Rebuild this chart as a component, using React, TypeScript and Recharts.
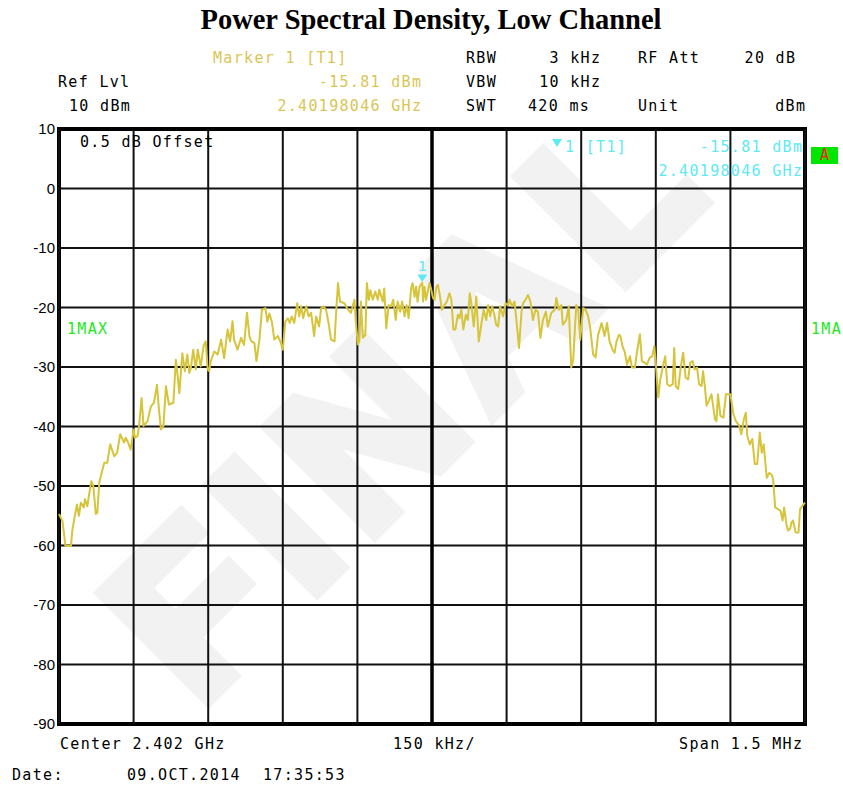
import React from 'react';
import {
  LineChart,
  Line,
  XAxis,
  YAxis,
  CartesianGrid,
  ReferenceLine,
  ReferenceArea,
  ReferenceDot,
} from 'recharts';

// frequency offset from 2.402 GHz centre (kHz) and max-hold level (dBm)
const lowerSkirtKHz = [
  -750, -743, -737, -726, -723, -714, -710, -706, -700, -698, -693, -690, -685, -681, -676,
  -673, -669, -659, -653, -647, -639, -633, -627, -619, -616, -611, -606, -600, -597, -592,
  -589, -584, -580, -572, -565, -559, -553, -549, -545, -540, -535, -529, -520, -515, -512,
  -508, -502, -497, -492, -488, -485, -480, -475, -471, -465, -459, -455, -451, -448, -445,
  -438, -431, -424, -418, -411, -406, -401, -398, -391, -384, -378, -372, -367, -363, -357,
];
const lowerSkirtDbm = [
  -54.7, -55.9, -60.1, -60.1, -57.3, -53.1, -55.0, -52.8, -53.6, -52.2, -53.4, -51.7, -49.2, -50.0, -54.7,
  -54.5, -49.4, -46.1, -46.1, -43.0, -45.0, -44.4, -41.3, -42.7, -41.9, -42.7, -43.9, -40.5, -41.9, -41.6,
  -39.9, -35.2, -39.9, -39.1, -36.6, -36.0, -33.0, -37.2, -40.5, -39.9, -33.2, -36.3, -36.0, -28.8, -31.0,
  -34.4, -27.7, -30.7, -27.9, -31.0, -30.2, -27.1, -30.4, -27.1, -29.9, -26.3, -25.7, -30.4, -30.7, -29.1,
  -27.4, -27.9, -25.4, -28.5, -23.7, -25.7, -22.3, -25.4, -27.1, -25.1, -26.3, -20.9, -24.9, -25.7, -26.0,
];

const lowerShoulderKHz = [
  -353, -347, -342, -335, -331, -327, -322, -317, -310, -305, -300, -295, -290, -286, -282,
  -277, -271, -267, -263, -259, -253, -248, -243, -237, -233, -227, -223, -218, -213, -208,
  -203, -196, -192, -189, -185, -176, -171, -163, -156, -153, -149, -146, -143, -139, -134,
  -131, -127, -124, -119, -114, -109,
];
const lowerShoulderDbm = [
  -29.0, -25.4, -20.4, -20.1, -22.4, -21.0, -22.4, -25.4, -24.8, -25.7, -27.1, -22.4, -21.8, -22.6, -21.5,
  -22.6, -19.3, -21.5, -19.8, -21.8, -19.8, -21.5, -20.9, -24.8, -21.5, -23.2, -20.1, -19.8, -20.4, -22.6,
  -25.4, -25.7, -19.8, -15.9, -19.0, -19.3, -20.1, -20.9, -18.7, -22.6, -26.2, -25.7, -19.0, -25.1, -24.6,
  -15.9, -18.7, -17.1, -18.7, -17.3, -18.7,
];

const centreKHz = [
  -106, -99, -96, -92, -87, -82, -78, -73, -69, -64, -60, -55, -51, -47, -42,
  -39, -35, -32, -29, -25, -19.5, -18, -15, -12, -5, -2, 2, 5, 9, 12,
  15, 20, 25, 30, 35, 39, 43, 47, 52, 55, 59, 63, 68, 72, 76,
  79, 84, 89, 94, 99, 104, 109, 113, 117, 121, 126, 129, 133, 137, 143,
  148, 153, 156, 161, 166, 171, 175, 180,
];
const centreDbm = [
  -17.0, -19.0, -16.8, -23.5, -19.6, -19.8, -18.7, -22.1, -19.0, -20.7, -19.0, -21.5, -19.6, -21.8, -16.8,
  -15.9, -18.2, -16.5, -19.0, -16.5, -15.81, -19.0, -16.5, -18.7, -15.9, -16.8, -18.4, -18.7, -16.5, -16.2,
  -17.6, -20.4, -19.6, -19.0, -17.6, -18.7, -23.7, -23.7, -21.2, -21.8, -20.4, -23.7, -21.2, -22.1, -17.6,
  -19.3, -23.2, -18.2, -25.7, -22.9, -20.4, -22.1, -19.6, -21.5, -19.8, -21.5, -22.9, -23.2, -19.8, -21.5,
  -19.3, -19.6, -18.7, -19.8, -19.0, -23.2, -26.8, -20.7,
];

const upperShoulderKHz = [
  183, 188, 193, 198, 203, 208, 213, 218, 223, 229, 233, 240, 247, 250, 255,
  260, 263, 270, 275, 280, 284, 290, 294, 298, 304, 309, 314, 318, 324, 329,
  334, 341, 347, 352, 357, 363, 367, 371, 376,
];
const upperShoulderDbm = [
  -19.3, -18.7, -17.9, -19.0, -22.1, -20.4, -20.7, -25.1, -22.1, -20.7, -23.2, -20.9, -20.4, -18.4, -20.4,
  -19.6, -22.9, -22.1, -19.8, -30.1, -28.7, -19.6, -20.4, -25.4, -20.1, -20.4, -21.5, -23.4, -27.9, -28.4,
  -24.6, -22.6, -24.8, -22.6, -25.7, -27.1, -27.6, -25.7, -24.6,
];

const upperSkirtKHz = [
  379, 383, 388, 392, 398, 402, 408, 412, 418, 422, 428, 432, 438, 443, 447,
  450, 455, 459, 465, 469, 473, 478, 484, 487, 490, 495, 500, 505, 510, 515,
  519, 524, 528, 533, 537, 542, 545, 549, 552, 555, 562, 569, 572, 575, 580,
  586, 591, 596, 600, 606, 611, 618, 622, 627, 631, 634, 639, 644, 649, 654,
  659, 663, 667, 673, 678, 683, 686, 690, 696, 701, 705, 708, 713, 716, 720,
  723, 726, 731, 737, 740, 747, 750,
];
const upperSkirtDbm = [
  -24.8, -26.5, -27.6, -29.6, -28.2, -30.1, -30.1, -27.6, -24.5, -29.0, -29.3, -29.6, -28.4, -28.2, -26.5,
  -29.3, -35.1, -32.1, -29.6, -28.2, -32.9, -33.2, -32.9, -26.8, -33.2, -33.7, -30.1, -27.6, -31.8, -32.1,
  -29.3, -29.0, -30.4, -30.1, -32.9, -33.2, -30.7, -33.5, -36.5, -36.0, -34.6, -38.8, -39.1, -34.6, -38.2,
  -38.5, -34.6, -34.6, -34.6, -37.9, -39.1, -39.9, -41.3, -38.8, -37.7, -41.6, -43.0, -42.1, -46.3, -46.3,
  -41.0, -44.4, -43.0, -48.6, -47.8, -48.1, -48.9, -53.6, -53.9, -54.2, -55.8, -53.6, -56.6, -57.5, -57.2,
  -56.1, -55.8, -57.8, -57.8, -53.9, -53.1, -52.8,
];

const freqTicks = [-750, -600, -450, -300, -150, 0, 150, 300, 450, 600, 750];
const levelTicks = [10, 0, -10, -20, -30, -40, -50, -60, -70, -80, -90];
const markerKHz = -19.54;
const markerDbm = -15.81;

const freqKHz = [...lowerSkirtKHz, ...lowerShoulderKHz, ...centreKHz, ...upperShoulderKHz, ...upperSkirtKHz];
const levels = [...lowerSkirtDbm, ...lowerShoulderDbm, ...centreDbm, ...upperShoulderDbm, ...upperSkirtDbm];
const chartData = freqKHz.map((f, i) => ({ f, level: levels[i] }));

const MONO = '"DejaVu Sans Mono", "Liberation Mono", monospace';
const YELLOW_TEXT = '#d8c655';
const TRACE = '#d6c43a';
const CYAN = '#5ee9f3';
const GREEN = '#22e822';

type TxtProps = {
  x?: number;
  right?: number;
  y: number;
  color?: string;
  children: React.ReactNode;
};

// instrument-style screen text, y is the vertical centre
function Txt({ x, right, y, color = '#000', children }: TxtProps) {
  const style: React.CSSProperties = {
    position: 'absolute',
    top: y - 9,
    height: 18,
    lineHeight: '18px',
    fontFamily: MONO,
    fontSize: 15,
    letterSpacing: 1.32,
    color,
    whiteSpace: 'pre',
  };
  if (right !== undefined) {
    style.right = 843 - right - 1.3;
  } else {
    style.left = x;
  }
  return <div style={style}>{children}</div>;
}

function MarkerShape(props: any) {
  const { cx, cy } = props;
  if (cx == null || cy == null) return null;
  return (
    <g>
      <polygon points={`${cx - 5},${cy - 8} ${cx + 5},${cy - 8} ${cx},${cy - 0.5}`} fill={CYAN} />
      <text x={cx} y={cy - 12} textAnchor="middle" fill={CYAN} fontFamily={MONO} fontSize={14}>
        1
      </text>
    </g>
  );
}

export default function App() {
  return (
    <div style={{ position: 'absolute', left: 0, top: 0, width: 843, height: 787, background: '#fff', overflow: 'hidden' }}>
      {/* FINAL watermark */}
      <svg width={843} height={787} style={{ position: 'absolute', left: 0, top: 0 }}>
        <text
          transform="translate(421,405) rotate(-45)"
          textAnchor="middle"
          dominantBaseline="middle"
          fontFamily="Liberation Sans, Arial, sans-serif"
          fontWeight="bold"
          fontSize={215}
          letterSpacing={22}
          fill="#f2f2f2"
          stroke="#f2f2f2"
          strokeWidth={16}
        >
          FINAL
        </text>
      </svg>

      <div style={{ position: 'absolute', left: 0, top: 0 }}>
        <LineChart width={843} height={787} data={chartData} margin={{ top: 129, right: 38, bottom: 63, left: 0 }}>
          <CartesianGrid stroke="#111" strokeWidth={2} vertical={false} />
          <XAxis
            type="number"
            dataKey="f"
            domain={[-750, 750]}
            ticks={freqTicks}
            tick={false}
            tickLine={false}
            axisLine={false}
            height={0}
          />
          <YAxis
            type="number"
            domain={[-90, 10]}
            ticks={levelTicks}
            width={59}
            tickSize={0}
            tickMargin={4}
            axisLine={false}
            tickLine={false}
            tick={{ fill: '#000', fontSize: 15, fontFamily: 'Liberation Sans, Arial, sans-serif' }}
          />
          {freqTicks.map((t) => (
            <ReferenceLine key={t} x={t} stroke={t === 0 ? '#000' : '#111'} strokeWidth={t === 0 ? 3.5 : 2} />
          ))}
          <ReferenceArea x1={-750} x2={750} y1={-90} y2={10} fill="none" stroke="#000" strokeWidth={4} />
          <Line
            type="linear"
            dataKey="level"
            stroke={TRACE}
            strokeWidth={2}
            dot={false}
            isAnimationActive={false}
            strokeLinejoin="round"
          />
          <ReferenceDot x={markerKHz} y={markerDbm} r={0} shape={MarkerShape} />
        </LineChart>
      </div>

      {/* title */}
      <div
        style={{
          position: 'absolute',
          top: 4,
          left: 0,
          width: 862,
          textAlign: 'center',
          fontFamily: '"Liberation Serif", "Times New Roman", serif',
          fontWeight: 'bold',
          fontSize: 28.5,
        }}
      >
        Power Spectral Density, Low Channel
      </div>

      {/* header block */}
      <Txt x={213} y={58} color={YELLOW_TEXT}>Marker 1 [T1]</Txt>
      <Txt x={466} y={58}>RBW</Txt>
      <Txt right={600} y={58}>3 kHz</Txt>
      <Txt x={638} y={58}>RF Att</Txt>
      <Txt right={795} y={58}>20 dB</Txt>

      <Txt x={58} y={82}>Ref Lvl</Txt>
      <Txt right={421} y={82} color={YELLOW_TEXT}>-15.81 dBm</Txt>
      <Txt x={466} y={82}>VBW</Txt>
      <Txt right={600} y={82}>10 kHz</Txt>

      <Txt x={69} y={106}>10 dBm</Txt>
      <Txt right={421} y={106} color={YELLOW_TEXT}>2.40198046 GHz</Txt>
      <Txt x={466} y={106}>SWT</Txt>
      <Txt x={528} y={106}>420 ms</Txt>
      <Txt x={638} y={106}>Unit</Txt>
      <Txt right={805} y={106}>dBm</Txt>

      {/* in-screen annotations */}
      <Txt x={80} y={142}>0.5 dB Offset</Txt>
      <svg width={12} height={10} style={{ position: 'absolute', left: 552, top: 139 }}>
        <polygon points="0,0 10,0 5,8" fill={CYAN} />
      </svg>
      <Txt x={565} y={147} color={CYAN}>1 [T1]</Txt>
      <Txt right={802} y={147} color={CYAN}>-15.81 dBm</Txt>
      <Txt right={802} y={171} color={CYAN}>2.40198046 GHz</Txt>
      <div
        style={{
          position: 'absolute',
          left: 811,
          top: 147,
          width: 27,
          height: 17,
          background: '#00e600',
          color: '#ff1a1a',
          fontFamily: MONO,
          fontSize: 15,
          lineHeight: '17px',
          textAlign: 'center',
        }}
      >
        A
      </div>
      <Txt x={67} y={329} color={GREEN}>1MAX</Txt>
      <Txt x={811} y={329} color={GREEN}>1MA</Txt>

      {/* footer */}
      <Txt x={60} y={744}>Center 2.402 GHz</Txt>
      <Txt x={393} y={744}>150 kHz/</Txt>
      <Txt right={802} y={744}>Span 1.5 MHz</Txt>
      <Txt x={12} y={775}>Date:</Txt>
      <Txt x={127} y={775}>09.OCT.2014</Txt>
      <Txt x={263} y={775}>17:35:53</Txt>
    </div>
  );
}
